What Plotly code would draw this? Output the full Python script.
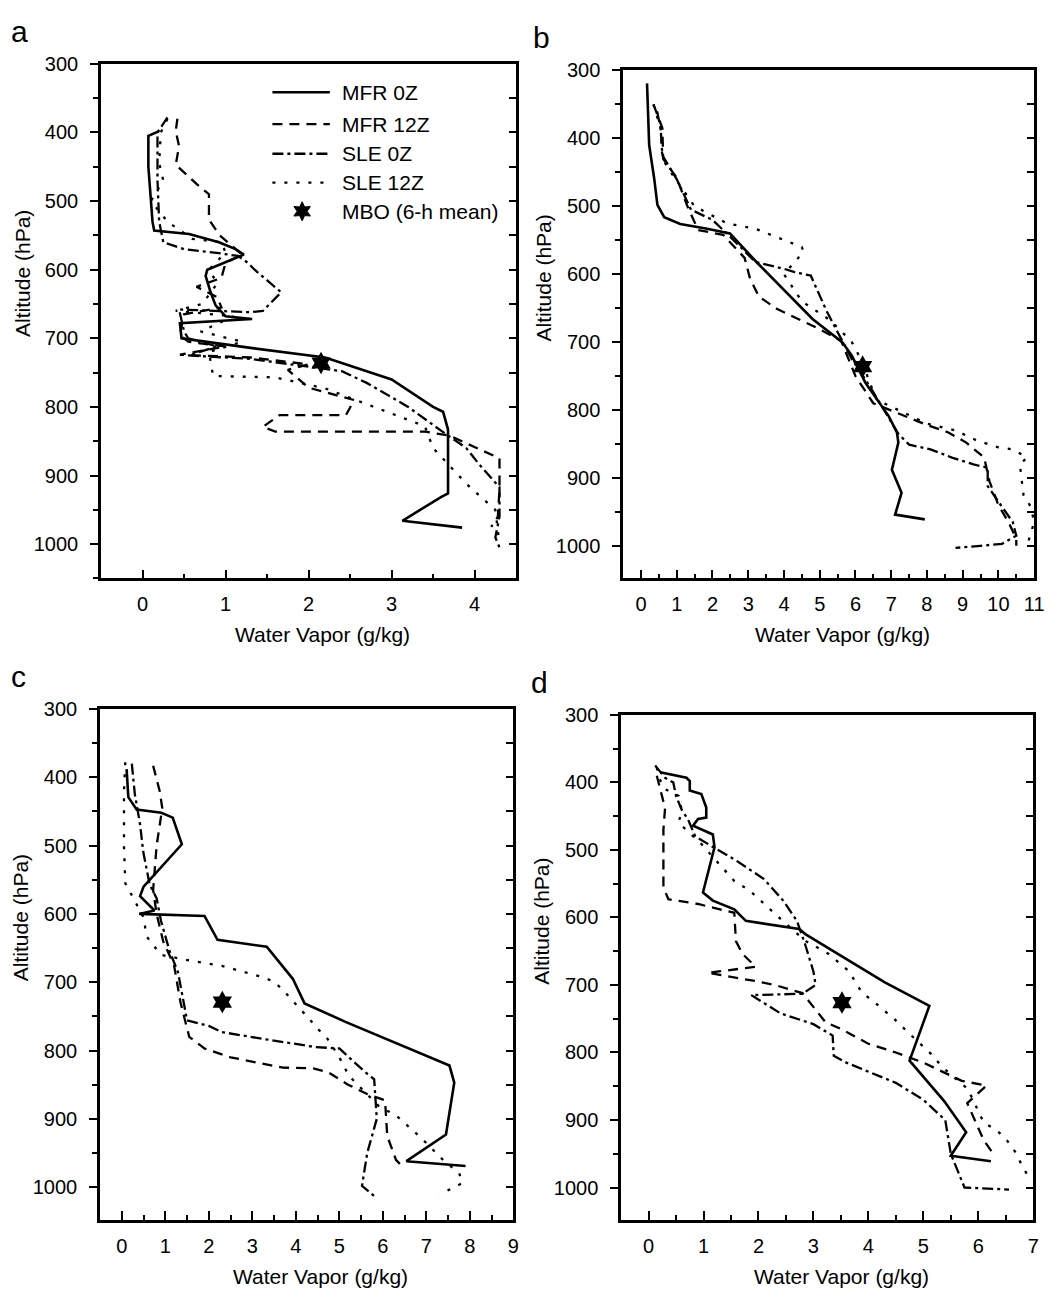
import math
import plotly.graph_objects as go

W, H = 1063, 1293
FONT = "Liberation Sans, Arial, Helvetica, sans-serif"

# ---------------- data (water vapor g/kg, pressure hPa) ----------------
A_MFR0Z_X = [0.2, 0.07, 0.07, 0.12, 0.14, 0.56, 0.92, 1.12, 1.22, 0.78, 0.76, 0.82, 0.88, 1.0, 1.32, 0.45, 0.47, 1.3, 2.2, 3.0, 3.5, 3.62, 3.68, 3.68, 3.6, 3.13, 3.85]
A_MFR0Z_P = [398, 405, 450, 530, 543, 548, 560, 570, 578, 600, 609, 633, 652, 668, 672, 678, 700, 714, 728, 760, 800, 807, 833, 926, 931, 966, 976]
A_MFR12Z_X = [0.42, 0.4, 0.44, 0.4, 0.65, 0.8, 0.8, 0.93, 1.2, 1.0, 0.95, 0.65, 0.9, 0.95, 0.5, 0.45, 0.55, 1.0, 0.45, 1.3, 2.0, 1.75, 2.0, 2.55, 2.45, 1.65, 1.45, 1.6, 3.4, 3.7, 4.3, 4.3, 4.28, 4.2]
A_MFR12Z_P = [380, 398, 420, 447, 475, 490, 527, 550, 578, 590, 612, 625, 640, 655, 665, 695, 705, 712, 724, 728, 738, 746, 772, 790, 812, 812, 829, 836, 836, 842, 875, 920, 960, 975]
A_SLE0Z_X = [0.3, 0.18, 0.18, 0.2, 0.25, 0.5, 0.92, 1.15, 1.27, 1.35, 1.67, 1.45, 1.3, 0.44, 0.5, 0.55, 0.9, 0.55, 1.3, 2.4, 2.7, 3.2, 3.6, 3.9, 4.05, 4.3, 4.3, 4.25, 4.3]
A_SLE0Z_P = [378, 400, 470, 530, 560, 570, 576, 580, 590, 600, 633, 660, 662, 658, 690, 700, 712, 725, 730, 748, 765, 800, 835, 860, 883, 917, 960, 990, 1005]
A_SLE12Z_X = [0.3, 0.22, 0.2, 0.25, 0.1, 0.3, 0.6, 0.95, 1.0, 0.8, 0.9, 0.72, 0.4, 1.1, 0.7, 1.2, 0.8, 0.85, 1.6, 2.2, 3.4, 3.5, 3.9, 4.25, 4.3]
A_SLE12Z_P = [380, 400, 445, 470, 500, 530, 555, 560, 575, 600, 620, 650, 660, 668, 690, 705, 720, 755, 757, 773, 828, 860, 912, 950, 1000]

B_MFR0Z_X = [0.17, 0.2, 0.23, 0.37, 0.46, 0.65, 1.1, 1.85, 2.49, 3.23, 4.06, 4.8, 5.63, 5.9, 6.28, 6.93, 7.16, 7.2, 7.02, 7.29, 7.11, 7.94]
B_MFR0Z_P = [319, 360, 410, 459, 498, 516, 526, 533, 540, 582, 627, 666, 700, 720, 760, 809, 833, 848, 888, 922, 954, 961]
B_MFR12Z_X = [0.35, 0.6, 0.62, 1.0, 1.3, 1.6, 2.3, 2.9, 3.05, 3.3, 3.8, 4.4, 5.0, 5.6, 6.0, 6.5, 7.3, 8.0, 8.6, 9.1, 9.6, 9.75, 10.0, 10.3, 10.5, 10.5]
B_MFR12Z_P = [350, 385, 430, 458, 500, 535, 542, 576, 606, 633, 651, 666, 681, 698, 750, 790, 807, 822, 833, 848, 870, 905, 940, 967, 990, 1000]
B_SLE0Z_X = [0.45, 0.55, 0.6, 1.0, 1.4, 2.0, 2.5, 3.2, 4.0, 4.3, 4.75, 5.2, 5.5, 5.9, 6.4, 6.8, 7.2, 7.5, 8.1, 8.7, 9.3, 9.7, 9.7, 10.0, 10.4, 10.5, 10.1, 9.5, 8.8]
B_SLE0Z_P = [360, 385, 425, 460, 505, 520, 545, 582, 592, 597, 602, 655, 685, 725, 765, 800, 835, 851, 858, 870, 880, 885, 912, 935, 965, 985, 997, 1000, 1003]
B_SLE12Z_X = [0.35, 0.55, 0.6, 0.9, 1.5, 2.4, 3.2, 3.9, 4.5, 4.55, 4.3, 4.0, 4.5, 5.3, 5.9, 6.2, 6.4, 6.6, 7.4, 8.0, 8.8, 9.4, 10.0, 10.4, 10.8, 10.6, 10.7, 10.9, 11.0, 10.8]
B_SLE12Z_P = [350, 385, 430, 455, 500, 525, 533, 547, 560, 567, 582, 600, 640, 668, 700, 730, 760, 785, 805, 820, 830, 845, 855, 858, 870, 880, 925, 942, 965, 1000]

C_MFR0Z_X = [0.11, 0.15, 0.34, 0.91, 1.17, 1.38, 0.5, 0.42, 0.75, 0.4, 1.9, 2.2, 3.33, 3.93, 4.2, 5.14, 7.53, 7.64, 7.45, 6.54, 7.9]
C_MFR0Z_P = [388, 429, 447, 452, 459, 498, 560, 574, 595, 600, 603, 638, 648, 695, 731, 758, 822, 847, 923, 962, 969]
C_MFR12Z_X = [0.72, 0.87, 0.93, 0.8, 0.72, 0.8, 0.95, 1.2, 1.35, 1.55, 1.9, 2.5, 3.7, 4.4, 4.75, 5.2, 5.65, 6.05, 6.1, 6.3, 6.45]
C_MFR12Z_P = [383, 420, 445, 500, 565, 600, 640, 675, 730, 780, 797, 810, 825, 826, 832, 850, 864, 873, 925, 960, 970]
C_SLE0Z_X = [0.23, 0.3, 0.42, 0.49, 0.64, 0.8, 0.9, 1.1, 1.29, 1.4, 1.5, 2.0, 2.3, 3.25, 4.0, 4.46, 5.0, 5.6, 5.8, 5.86, 5.64, 5.52, 5.82]
C_SLE0Z_P = [380, 425, 469, 508, 557, 577, 610, 655, 685, 724, 756, 764, 773, 783, 791, 795, 797, 832, 842, 900, 950, 998, 1014]
C_SLE12Z_X = [0.08, 0.05, 0.05, 0.08, 0.5, 0.57, 0.9, 1.55, 2.3, 3.2, 3.5, 3.74, 4.24, 4.5, 4.73, 5.0, 5.22, 5.9, 6.32, 6.88, 7.41, 7.75, 7.83, 7.3]
C_SLE12Z_P = [378, 420, 500, 555, 605, 633, 660, 668, 676, 692, 699, 714, 749, 768, 783, 810, 837, 881, 896, 928, 962, 979, 994, 1011]

D_MFR0Z_X = [0.21, 0.69, 0.75, 0.75, 0.96, 1.05, 1.05, 0.9, 0.81, 1.17, 1.2, 0.99, 1.17, 1.56, 1.77, 2.74, 2.86, 4.3, 5.11, 4.75, 5.38, 5.78, 5.5, 6.23]
D_MFR0Z_P = [385, 393, 398, 412, 417, 437, 452, 454, 464, 477, 496, 563, 575, 588, 605, 617, 625, 696, 731, 812, 872, 918, 953, 961]
D_MFR12Z_X = [0.15, 0.2, 0.3, 0.27, 0.27, 0.36, 0.9, 1.3, 1.56, 1.59, 1.71, 1.95, 1.08, 2.0, 2.3, 2.8, 3.22, 3.5, 4.0, 4.5, 5.0, 5.7, 6.15, 5.8, 6.1, 6.3]
D_MFR12Z_P = [390, 405, 438, 470, 555, 573, 580, 588, 593, 635, 654, 673, 682, 695, 700, 712, 755, 765, 787, 800, 815, 842, 849, 875, 930, 953]
D_SLE0Z_X = [0.12, 0.3, 0.45, 0.5, 0.6, 0.72, 0.85, 1.2, 1.6, 2.1, 2.45, 2.7, 2.85, 3.0, 3.04, 2.8, 1.87, 2.4, 3.0, 3.35, 3.37, 3.6, 4.5, 5.0, 5.4, 5.5, 5.75, 6.56]
D_SLE0Z_P = [375, 393, 400, 420, 440, 455, 480, 497, 516, 543, 575, 605, 640, 680, 700, 713, 715, 742, 758, 775, 805, 815, 845, 870, 900, 950, 1000, 1003]
D_SLE12Z_X = [0.15, 0.2, 0.3, 0.55, 0.6, 0.55, 0.96, 1.56, 1.84, 2.23, 2.44, 2.86, 3.28, 3.64, 3.88, 4.12, 4.48, 4.72, 5.14, 5.35, 5.81, 6.1, 6.35, 6.53, 6.68, 6.8, 6.92]
D_SLE12Z_P = [378, 395, 410, 420, 440, 460, 491, 546, 560, 590, 605, 635, 654, 679, 711, 726, 751, 770, 802, 822, 854, 904, 916, 931, 948, 968, 985]

MBO_X = [2.15, 6.2, 2.31, 3.52]
MBO_P = [736, 736, 729, 726]

SERIES_NAMES = ["MFR 0Z", "MFR 12Z", "SLE 0Z", "SLE 12Z"]
MBO_NAME = "MBO (6-h mean)"
PANEL_LETTERS = ["a", "b", "c", "d"]
X_RANGES = [[-0.5, 4.5], [-0.5, 11], [-0.5, 9], [-0.5, 7]]
Y_TICKS = [300, 400, 500, 600, 700, 800, 900, 1000]
X_TITLE = "Water Vapor (g/kg)"
Y_TITLE = "Altitude (hPa)"

# ---------------- styling / layout ----------------
STYLES = [
    dict(dash="solid", width=2.6),
    dict(dash="10px,7px", width=2.3),
    dict(dash="11px,4px,3px,4px", width=2.3),
    dict(dash="3px,9px", width=2.3),
]
# panel boxes in pixels: left, right, top, bottom
BOXES = [(102, 521, 53.3, 572.3), (629, 1044, 60, 572.3),
         (101, 518.3, 704, 1219.3), (627, 1043, 710, 1219.3)]
Y_RANGES = [[1050, 300], [1048, 300], [1048, 300], [1048, 300]]

panels = [
    [(A_MFR0Z_X, A_MFR0Z_P), (A_MFR12Z_X, A_MFR12Z_P), (A_SLE0Z_X, A_SLE0Z_P), (A_SLE12Z_X, A_SLE12Z_P)],
    [(B_MFR0Z_X, B_MFR0Z_P), (B_MFR12Z_X, B_MFR12Z_P), (B_SLE0Z_X, B_SLE0Z_P), (B_SLE12Z_X, B_SLE12Z_P)],
    [(C_MFR0Z_X, C_MFR0Z_P), (C_MFR12Z_X, C_MFR12Z_P), (C_SLE0Z_X, C_SLE0Z_P), (C_SLE12Z_X, C_SLE12Z_P)],
    [(D_MFR0Z_X, D_MFR0Z_P), (D_MFR12Z_X, D_MFR12Z_P), (D_SLE0Z_X, D_SLE0Z_P), (D_SLE12Z_X, D_SLE12Z_P)],
]

fig = go.Figure()
layout = dict(
    width=W, height=H, margin=dict(l=0, r=0, t=0, b=0),
    paper_bgcolor="white", plot_bgcolor="white", showlegend=False,
    font=dict(family=FONT, color="black", size=20),
)

def px(x):
    return x / W

def py(y):
    return 1 - y / H

annotations = []
shapes = []

for i, box in enumerate(BOXES):
    l, r, t, b = box
    n = i + 1
    xa = "x" if n == 1 else f"x{n}"
    ya = "y" if n == 1 else f"y{n}"
    ra = f"y{n + 4}"
    for k, (xs, ps) in enumerate(panels[i]):
        fig.add_trace(go.Scatter(
            x=xs, y=ps, mode="lines", name=SERIES_NAMES[k],
            line=dict(color="black", width=STYLES[k]["width"], dash=STYLES[k]["dash"]),
            xaxis=xa, yaxis=ya, hoverinfo="skip"))
    fig.add_trace(go.Scatter(
        x=[MBO_X[i]], y=[MBO_P[i]], mode="markers", name=MBO_NAME,
        marker=dict(symbol="hexagram", size=17, color="black"),
        xaxis=xa, yaxis=ya, hoverinfo="skip"))

    xkey = "xaxis" if n == 1 else f"xaxis{n}"
    ykey = "yaxis" if n == 1 else f"yaxis{n}"
    rkey = f"yaxis{n + 4}"
    layout[xkey] = dict(
        domain=[px(l), px(r)], anchor=ya, range=X_RANGES[i],
        tickmode="linear", tick0=0, dtick=1,
        ticks="inside", ticklen=9, tickwidth=2, tickcolor="black",
        minor=dict(tickmode="linear", tick0=0, dtick=0.5, ticks="inside",
                   ticklen=5, tickwidth=2, tickcolor="black"),
        showline=True, linewidth=2.6, linecolor="black", mirror=True,
        showgrid=False, zeroline=False, tickfont=dict(size=20),
        ticklabelstandoff=6,
    )
    layout[ykey] = dict(
        domain=[py(b), py(t)], anchor=xa, range=Y_RANGES[i],
        tickmode="array", tickvals=Y_TICKS, ticktext=[str(v) for v in Y_TICKS],
        ticks="outside", ticklen=8, tickwidth=2, tickcolor="black",
        minor=dict(tickmode="linear", tick0=300, dtick=50, ticks="outside",
                   ticklen=5, tickwidth=2, tickcolor="black"),
        showline=True, linewidth=2.6, linecolor="black", mirror=True,
        showgrid=False, zeroline=False, tickfont=dict(size=20),
        ticklabelstandoff=8,
    )
    layout[rkey] = dict(
        overlaying=ya, side="right", anchor=xa, range=Y_RANGES[i],
        tickmode="linear", tick0=300, dtick=50,
        ticks="inside", ticklen=7, tickwidth=2, tickcolor="black",
        showticklabels=False, showline=False, showgrid=False, zeroline=False,
    )
    # an invisible trace so the right-hand tick axis is drawn
    fig.add_trace(go.Scatter(x=[None], y=[None], xaxis=xa, yaxis=ra,
                             mode="lines", showlegend=False, hoverinfo="skip"))

    # panel letter
    annotations.append(dict(text=PANEL_LETTERS[i], xref="paper", yref="paper",
                            x=px(l - 82), y=py(t - 33), xanchor="center", yanchor="middle",
                            showarrow=False, font=dict(size=30, family=FONT)))
    # axis titles
    annotations.append(dict(text=X_TITLE, xref="paper", yref="paper",
                            x=px((l + r) / 2 + 14), y=py(b + 57), xanchor="center", yanchor="middle",
                            showarrow=False, font=dict(size=21, family=FONT)))
    annotations.append(dict(text=Y_TITLE, xref="paper", yref=ya,
                            x=px(l - 80), y=605, xanchor="center", yanchor="middle",
                            textangle=-90, showarrow=False, font=dict(size=21, family=FONT)))

# ---------------- legend (panel a) ----------------
LEG_ROWS = [82, 114, 144, 173, 202]
for k in range(4):
    yr = py(LEG_ROWS[k])
    shapes.append(dict(type="line", xref="paper", yref="paper",
                       x0=px(275), x1=px(333), y0=yr, y1=yr,
                       line=dict(color="black", width=STYLES[k]["width"], dash=STYLES[k]["dash"])))
    annotations.append(dict(text=SERIES_NAMES[k], xref="paper", yref="paper",
                            x=px(343), y=yr, xanchor="left", yanchor="middle",
                            showarrow=False, font=dict(size=21, family=FONT)))
annotations.append(dict(text=MBO_NAME, xref="paper", yref="paper",
                        x=px(343), y=py(LEG_ROWS[4]), xanchor="left", yanchor="middle",
                        showarrow=False, font=dict(size=21, family=FONT)))
# hexagram glyph for the MBO legend entry
pts = []
for j in range(12):
    ang = math.pi / 2 + j * math.pi / 6
    rad = 9.5 if j % 2 == 0 else 5.0
    pts.append((rad * math.cos(ang), rad * math.sin(ang)))
path = "M " + " L ".join(f"{x:.2f},{y:.2f}" for x, y in pts) + " Z"
shapes.append(dict(type="path", xref="paper", yref="paper",
                   xsizemode="pixel", ysizemode="pixel",
                   xanchor=px(305), yanchor=py(LEG_ROWS[4]), path=path,
                   fillcolor="black", line=dict(color="black", width=1)))

layout["annotations"] = annotations
layout["shapes"] = shapes
fig.update_layout(**layout)
fig.write_html("out.html", config={"displayModeBar": False},
               post_script="document.body.style.margin='0px';document.body.style.overflow='hidden';")
